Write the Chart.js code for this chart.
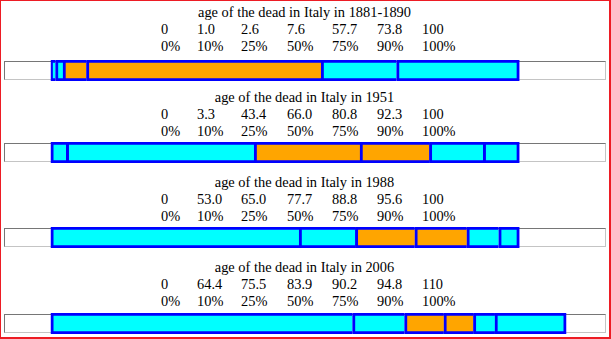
<!DOCTYPE html>
<html lang="en">
<head>
   <meta charset="UTF-8">
   <title>age of the dead in Italy</title>
   <style>
      html, body {
         margin: 0;
         padding: 0;
         background: #fff;
      }
      .page {
         position: relative;
         width: 611px;
         height: 339px;
         box-sizing: border-box;
         border-style: solid;
         border-color: #ed1c24;
         border-width: 1px 2px 2px 1px;
         overflow: hidden;
         font-family: "Liberation Serif", "Times New Roman", serif;
         font-size: 14.4px;
         color: #000;
      }
      .panel {
         position: absolute;
         left: -1px;
         width: 611px;
         height: 85px;
      }
      .title {
         position: absolute;
         left: -1px;
         width: 611px;
         top: 4px;
         line-height: 16px;
         text-align: center;
         white-space: nowrap;
      }
      .row {
         position: absolute;
         left: 161px;
         line-height: 16px;
         white-space: nowrap;
      }
      .row span {
         display: inline-block;
      }
      .frame {
         position: absolute;
         left: 4px;
         width: 602px;
         height: 19px;
         box-sizing: border-box;
         border-style: solid;
         border-width: 1px;
         border-color: #767676 #c4c4c4 #c4c4c4 #767676;
      }
      .bar {
         position: absolute;
         left: 4px;
      }
   </style>
   <script src="https://cdn.jsdelivr.net/npm/chart.js@4/dist/chart.umd.min.js"></script>
</head>
<body>
   <div class="page" id="page"></div>

   <script>
      // data
      let titles = [
         'age of the dead in Italy in 1881-1890',
         'age of the dead in Italy in 1951',
         'age of the dead in Italy in 1988',
         'age of the dead in Italy in 2006'
      ];
      let percentLabels = ['0%', '10%', '25%', '50%', '75%', '90%', '100%'];
      let ages1881 = [0, 1.0, 2.6, 7.6, 57.7, 73.8, 100];
      let ages1951 = [0, 3.3, 43.4, 66.0, 80.8, 92.3, 100];
      let ages1988 = [0, 53.0, 65.0, 77.7, 88.8, 95.6, 100];
      let ages2006 = [0, 64.4, 75.5, 83.9, 90.2, 94.8, 110];
      let allAges = [ages1881, ages1951, ages1988, ages2006];

      // axis range of every bar
      let ageMin = -10;
      let ageMax = 118.5;

      let cyan = '#00ffff';
      let orange = '#ffa500';
      let blue = '#0000ff';

      // column widths of the two label rows
      let colWidths = [36, 44, 46, 45, 45, 45, 40];
      let panelTops = [0, 85, 170, 255];
      let barOffsets = [60, 57, 57, 58];

      let fmt = (v, i, n) => (i === 0 || i === n - 1) ? String(v) : v.toFixed(1);

      let page = document.getElementById('page');

      allAges.forEach((ages, p) => {
         let panel = document.createElement('div');
         panel.className = 'panel';
         panel.style.top = (panelTops[p] - 1) + 'px';

         let title = document.createElement('div');
         title.className = 'title';
         title.textContent = titles[p];
         panel.appendChild(title);

         let valueRow = document.createElement('div');
         valueRow.className = 'row';
         valueRow.style.top = '21px';
         let pctRow = document.createElement('div');
         pctRow.className = 'row';
         pctRow.style.top = '38px';
         ages.forEach((v, i) => {
            let a = document.createElement('span');
            a.style.width = colWidths[i] + 'px';
            a.textContent = fmt(v, i, ages.length);
            valueRow.appendChild(a);
            let b = document.createElement('span');
            b.style.width = colWidths[i] + 'px';
            b.textContent = percentLabels[i];
            pctRow.appendChild(b);
         });
         panel.appendChild(valueRow);
         panel.appendChild(pctRow);

         let frame = document.createElement('div');
         frame.className = 'frame';
         frame.style.top = (barOffsets[p] + 1) + 'px';
         panel.appendChild(frame);

         let canvas = document.createElement('canvas');
         canvas.className = 'bar';
         canvas.width = 602;
         canvas.height = 21;
         canvas.style.top = barOffsets[p] + 'px';
         panel.appendChild(canvas);

         page.appendChild(panel);

         // one floating bar per gap between two percentiles
         let segments = [];
         let colors = [];
         for (let i = 0; i < ages.length - 1; i++) {
            segments.push({ x: [ages[i], ages[i + 1]], y: 'age' });
            colors.push(i === 2 || i === 3 ? orange : cyan);
         }
         let last = segments.length - 1;

         new Chart(canvas.getContext('2d'), {
            type: 'bar',
            data: {
               labels: ['age'],
               datasets: [{
                  data: segments,
                  backgroundColor: colors,
                  borderColor: blue,
                  borderSkipped: false,
                  borderWidth: (ctx) => ctx.dataIndex === last
                     ? { left: 3, right: 3, top: 3, bottom: 3 }
                     : { left: 3, right: 0, top: 3, bottom: 3 },
                  barPercentage: 1,
                  categoryPercentage: 1
               }]
            },
            options: {
               indexAxis: 'y',
               responsive: false,
               animation: false,
               events: [],
               layout: { padding: 0 },
               plugins: {
                  legend: { display: false },
                  tooltip: { enabled: false },
                  title: { display: false }
               },
               scales: {
                  x: { type: 'linear', min: ageMin, max: ageMax, display: false },
                  y: { display: false }
               }
            }
         });
      });
   </script>
</body>
</html>
